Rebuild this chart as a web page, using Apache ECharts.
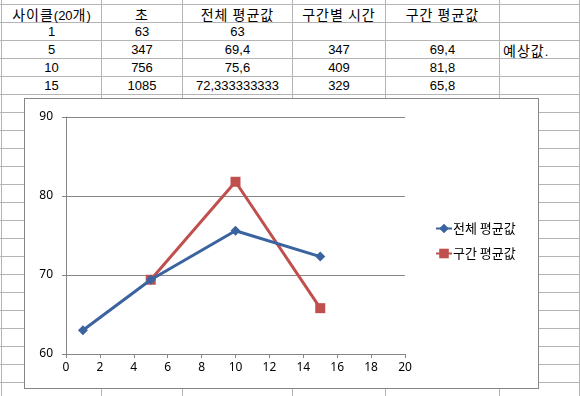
<!DOCTYPE html>
<html>
<head>
<meta charset="utf-8">
<script src="https://cdn.jsdelivr.net/npm/echarts@6/dist/echarts.min.js"></script>
<style>
html,body{margin:0;padding:0;background:#fff;width:580px;height:396px;overflow:hidden;position:relative;}
.vl{position:absolute;top:0;width:1px;height:396px;background:#b4b4b4;}
.hl{position:absolute;left:0;height:1px;width:580px;background:#b4b4b4;}
.cell{position:absolute;height:18px;line-height:18px;font-family:"Liberation Sans","Noto Sans CJK KR",sans-serif;font-size:13px;color:#000;white-space:nowrap;overflow:hidden;text-align:center;}
.hg{font-family:"Noto Sans CJK KR",sans-serif;font-size:14px;letter-spacing:1px;}
#chartBox{position:absolute;left:24px;top:98px;width:515px;height:291px;box-sizing:border-box;border:1px solid #868686;background:#fff;}
#chart{width:513px;height:289px;}
</style>
</head>
<body>
<div id="sheet"></div>
<div id="chartBox"><div id="chart"></div></div>
<script>
// ---- data ----
var headers = ['사이클(20개)', '초', '전체 평균값', '구간별 시간', '구간 평균값', ''];
var cycles = [1, 5, 10, 15];
var seconds = [63, 347, 756, 1085];
var overallAvg = [63, 69.4, 75.6, 72.333333333];
var sectionTime = [null, 347, 409, 329];
var sectionAvg = [null, 69.4, 81.8, 65.8];
var notes = ['', '예상값.', '', ''];
var seriesNames = ['전체 평균값', '구간 평균값'];

// ---- sheet ----
var colX = [1, 101, 182, 292, 385, 499, 579];
var sheet = document.getElementById('sheet');
colX.forEach(function (x) {
  var d = document.createElement('div'); d.className = 'vl'; d.style.left = x + 'px'; sheet.appendChild(d);
});
for (var y = 4; y < 396; y += 18) {
  var d = document.createElement('div'); d.className = 'hl'; d.style.top = y + 'px'; sheet.appendChild(d);
}
function fmt(v) { return v == null ? '' : String(v).replace('.', ','); }
function fill(el, text) {
  var re = /([\uAC00-\uD7AF\u1100-\u11FF\u3130-\u318F ]+)/;
  text.split(re).forEach(function (part) {
    if (!part) return;
    if (re.test(part) && /[^ ]/.test(part)) {
      var s = document.createElement('span'); s.className = 'hg'; s.textContent = part; el.appendChild(s);
    } else {
      el.appendChild(document.createTextNode(part));
    }
  });
}
function cell(col, row, text, align) {
  var d = document.createElement('div'); d.className = 'cell';
  var x0 = colX[col], x1 = colX[col + 1];
  d.style.left = (x0 + 1) + 'px'; d.style.width = (x1 - x0 - 1) + 'px';
  d.style.top = (4 + 18 * row + 1) + 'px';
  if (align === 'left') { d.style.textAlign = 'left'; d.style.paddingLeft = '3px'; }
  fill(d, text); sheet.appendChild(d);
}
headers.forEach(function (h, i) { cell(i, 0, h); });
cycles.forEach(function (c, i) {
  cell(0, i + 1, fmt(c));
  cell(1, i + 1, fmt(seconds[i]));
  cell(2, i + 1, fmt(overallAvg[i]));
  cell(3, i + 1, fmt(sectionTime[i]));
  cell(4, i + 1, fmt(sectionAvg[i]));
  cell(5, i + 1, notes[i], 'left');
});

// ---- chart ----
var overallData = cycles.map(function (c, i) { return [c, overallAvg[i]]; });
var sectionData = [];
cycles.forEach(function (c, i) { if (sectionAvg[i] != null) sectionData.push([c, sectionAvg[i]]); });

var chart = echarts.init(document.getElementById('chart'), null, { renderer: 'canvas' });
var axisColor = '#868686';
chart.setOption({
  animation: false,
  textStyle: { fontFamily: '"Noto Sans CJK KR","Noto Sans",sans-serif' },
  grid: { left: 41, top: 18, width: 339, height: 237, containLabel: false },
  legend: {
    orient: 'vertical', left: 405, top: 118,
    itemWidth: 16, itemHeight: 12, itemGap: 12,
    textStyle: { fontSize: 13, color: '#000', padding: [0, 0, 0, -4] },
    data: seriesNames
  },
  xAxis: {
    type: 'value', min: 0, max: 20, interval: 2,
    axisLine: { show: true, lineStyle: { color: axisColor, width: 1 } },
    axisTick: { show: true, inside: false, length: 4, lineStyle: { color: axisColor } },
    axisLabel: { color: '#000', fontSize: 12, margin: 8, fontFamily: '"Noto Sans",sans-serif' },
    splitLine: { show: false }
  },
  yAxis: {
    type: 'value', min: 60, max: 90, interval: 10,
    axisLine: { show: true, lineStyle: { color: axisColor, width: 1 } },
    axisTick: { show: true, inside: false, length: 4, lineStyle: { color: axisColor } },
    axisLabel: { color: '#000', fontSize: 12, margin: 13, fontFamily: '"Noto Sans",sans-serif' },
    splitLine: { show: true, lineStyle: { color: axisColor, width: 1 } }
  },
  series: [
    {
      name: seriesNames[0], type: 'line', data: overallData,
      symbol: 'diamond', symbolSize: 10,
      lineStyle: { color: '#3A63A0', width: 3 },
      itemStyle: { color: '#3A63A0' },
      z: 3
    },
    {
      name: seriesNames[1], type: 'line', data: sectionData,
      symbol: 'rect', symbolSize: 10,
      lineStyle: { color: '#C0504D', width: 3 },
      itemStyle: { color: '#C0504D' },
      z: 2
    }
  ]
});
</script>
</body>
</html>
